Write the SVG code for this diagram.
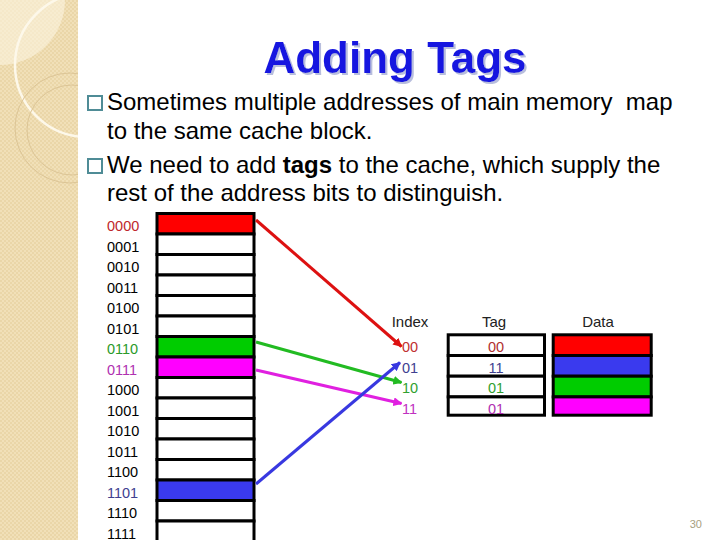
<svg xmlns="http://www.w3.org/2000/svg" width="720" height="540" viewBox="0 0 720 540">
<defs>
<pattern id="tex" width="4" height="4" patternUnits="userSpaceOnUse">
<rect width="4" height="4" fill="#f1e0b8"/>
<rect width="2" height="2" fill="#ead6a8"/>
<rect x="2" y="2" width="2" height="2" fill="#ead6a8"/>
</pattern>
<clipPath id="panelClip"><rect x="0" y="0" width="78" height="540"/></clipPath>
<filter id="shadow" x="-5%" y="-20%" width="110%" height="140%">
<feDropShadow dx="2" dy="2" stdDeviation="0.6" flood-color="#b8bedd" flood-opacity="1"/>
</filter>
<marker id="mRed" viewBox="0 0 10 10" refX="9" refY="5" markerWidth="9" markerHeight="9" markerUnits="userSpaceOnUse" orient="auto"><path d="M0,0 L10,5 L0,10 z" fill="#dd1111"/></marker>
<marker id="mGreen" viewBox="0 0 10 10" refX="9" refY="5" markerWidth="9" markerHeight="9" markerUnits="userSpaceOnUse" orient="auto"><path d="M0,0 L10,5 L0,10 z" fill="#22bb22"/></marker>
<marker id="mMag" viewBox="0 0 10 10" refX="9" refY="5" markerWidth="9" markerHeight="9" markerUnits="userSpaceOnUse" orient="auto"><path d="M0,0 L10,5 L0,10 z" fill="#e020e0"/></marker>
<marker id="mBlue" viewBox="0 0 10 10" refX="9" refY="5" markerWidth="9" markerHeight="9" markerUnits="userSpaceOnUse" orient="auto"><path d="M0,0 L10,5 L0,10 z" fill="#3838e0"/></marker>
</defs>
<style>
.body{font-family:"Liberation Sans",Arial,sans-serif;font-size:24px;fill:#000}
.bul{fill:none;stroke:#4f8c96;stroke-width:2}
.lbl{font-family:"Liberation Sans",Arial,sans-serif;font-size:14.5px;fill:#000}
.hdr{font-family:"Liberation Sans",Arial,sans-serif;font-size:15px;fill:#222}
.cell{stroke:#000;stroke-width:3}
.conn{fill:none;stroke-width:3}
</style>
<rect width="720" height="540" fill="#fff"/>
<g id="panel" clip-path="url(#panelClip)">
<rect x="0" y="0" width="78" height="540" fill="url(#tex)"/>
<circle cx="0" cy="0" r="65" fill="#fbf3df" opacity="0.6"/>
<circle cx="87" cy="65" r="72" fill="none" stroke="#fdf8ea" stroke-width="2.5"/>
<circle cx="70" cy="128" r="55" fill="none" stroke="#dcc596" stroke-width="1"/>
<circle cx="72" cy="130" r="45" fill="none" stroke="#dcc596" stroke-width="1"/>
</g>
<g id="title">
<text x="395" y="73" text-anchor="middle" font-family="Liberation Sans,Arial,sans-serif" font-weight="bold" font-size="44" fill="#1717e0" filter="url(#shadow)">Adding Tags</text>
</g>
<g id="bullets">
<rect class="bul" x="88" y="96" width="14" height="14"/>
<text class="body" x="107" y="110" xml:space="preserve">Sometimes multiple addresses of main memory  map</text>
<text class="body" x="107" y="139">to the same cache block.</text>
<rect class="bul" x="88" y="159" width="14" height="14"/>
<text class="body" x="107" y="173">We need to add <tspan font-weight="bold">tags</tspan> to the cache, which supply the</text>
<text class="body" x="107" y="201">rest of the address bits to distinguish.</text>
</g>
<g id="memory">
<rect class="cell" x="157" y="213.5" width="97" height="20.5" fill="#ff0000"/>
<rect class="cell" x="157" y="234" width="97" height="20.5" fill="#fff"/>
<rect class="cell" x="157" y="254.5" width="97" height="20.5" fill="#fff"/>
<rect class="cell" x="157" y="275" width="97" height="20.5" fill="#fff"/>
<rect class="cell" x="157" y="295.5" width="97" height="20.5" fill="#fff"/>
<rect class="cell" x="157" y="316" width="97" height="20.5" fill="#fff"/>
<rect class="cell" x="157" y="336.5" width="97" height="20.5" fill="#00cc00"/>
<rect class="cell" x="157" y="357" width="97" height="20.5" fill="#ff00ff"/>
<rect class="cell" x="157" y="377.5" width="97" height="20.5" fill="#fff"/>
<rect class="cell" x="157" y="398" width="97" height="20.5" fill="#fff"/>
<rect class="cell" x="157" y="418.5" width="97" height="20.5" fill="#fff"/>
<rect class="cell" x="157" y="439" width="97" height="20.5" fill="#fff"/>
<rect class="cell" x="157" y="459.5" width="97" height="20.5" fill="#fff"/>
<rect class="cell" x="157" y="480" width="97" height="20.5" fill="#3a3aee"/>
<rect class="cell" x="157" y="500.5" width="97" height="20.5" fill="#fff"/>
<rect class="cell" x="157" y="521" width="97" height="20.5" fill="#fff"/>
</g>
<g id="memory-labels">
<text class="lbl" x="107" y="231" style="fill:#c0282c">0000</text>
<text class="lbl" x="107" y="251.5">0001</text>
<text class="lbl" x="107" y="272">0010</text>
<text class="lbl" x="107" y="292.5">0011</text>
<text class="lbl" x="107" y="313">0100</text>
<text class="lbl" x="107" y="333.5">0101</text>
<text class="lbl" x="107" y="354" style="fill:#2a9a2a">0110</text>
<text class="lbl" x="107" y="374.5" style="fill:#b030b0">0111</text>
<text class="lbl" x="107" y="395">1000</text>
<text class="lbl" x="107" y="415.5">1001</text>
<text class="lbl" x="107" y="436">1010</text>
<text class="lbl" x="107" y="456.5">1011</text>
<text class="lbl" x="107" y="477">1100</text>
<text class="lbl" x="107" y="497.5" style="fill:#404090">1101</text>
<text class="lbl" x="107" y="518">1110</text>
<text class="lbl" x="107" y="538.5">1111</text>
</g>
<g id="headers">
<text class="hdr" x="410" y="327" text-anchor="middle">Index</text>
<text class="hdr" x="494" y="327" text-anchor="middle">Tag</text>
<text class="hdr" x="598" y="327" text-anchor="middle">Data</text>
</g>
<g id="index">
<text class="lbl" x="402" y="352" style="fill:#c03030">00</text>
<text class="lbl" x="402" y="372.5" style="fill:#404090">01</text>
<text class="lbl" x="402" y="393" style="fill:#30a030">10</text>
<text class="lbl" x="402" y="413.5" style="fill:#c030c0">11</text>
</g>
<g id="tag">
<rect class="cell" x="448.2" y="334.8" width="96.3" height="20.7" fill="#fff"/>
<rect class="cell" x="448.2" y="355.5" width="96.3" height="20.7" fill="#fff"/>
<rect class="cell" x="448.2" y="376.2" width="96.3" height="20.7" fill="#fff"/>
<rect class="cell" x="448.2" y="396.9" width="96.3" height="18.3" fill="#fff"/>
<text class="lbl" x="496" y="352" text-anchor="middle" style="fill:#b03030">00</text>
<text class="lbl" x="496" y="372.5" text-anchor="middle" style="fill:#404090">11</text>
<text class="lbl" x="496" y="393" text-anchor="middle" style="fill:#30a030">01</text>
<text class="lbl" x="496" y="413.5" text-anchor="middle" style="fill:#b030b0">01</text>
</g>
<g id="data">
<rect class="cell" x="553.2" y="334.8" width="98" height="20.7" fill="#ff0000"/>
<rect class="cell" x="553.2" y="355.5" width="98" height="20.7" fill="#3a3aee"/>
<rect class="cell" x="553.2" y="376.2" width="98" height="20.7" fill="#00cc00"/>
<rect class="cell" x="553.2" y="396.9" width="98" height="18.3" fill="#ff00ff"/>
</g>
<g id="connectors">
<line class="conn" x1="256" y1="220" x2="401.5" y2="346.5" stroke="#dd1111" marker-end="url(#mRed)"/>
<line class="conn" x1="256" y1="342" x2="401.5" y2="382.5" stroke="#22bb22" marker-end="url(#mGreen)"/>
<line class="conn" x1="256" y1="370" x2="401.5" y2="403.5" stroke="#e020e0" marker-end="url(#mMag)"/>
<line class="conn" x1="256" y1="484" x2="400" y2="362.5" stroke="#3838e0" marker-end="url(#mBlue)"/>
</g>
<g id="page">
<text x="702" y="528" text-anchor="end" font-family="Liberation Sans,Arial,sans-serif" font-size="11" fill="#a8a080">30</text>
</g>
</svg>
